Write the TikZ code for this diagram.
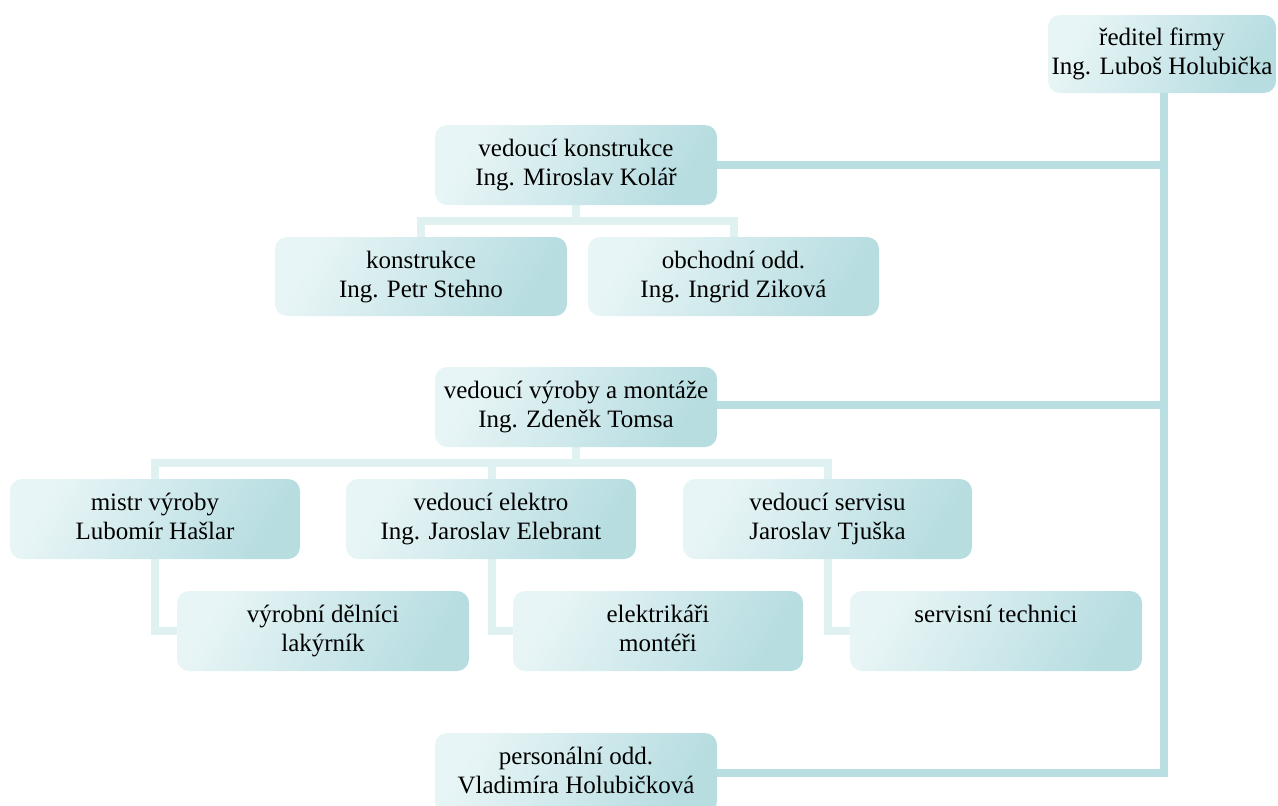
\documentclass[tikz,border=0pt]{standalone}
\usepackage{fontspec}
\setmainfont{Liberation Serif}
\usetikzlibrary{backgrounds}
\definecolor{boxL}{HTML}{E8F5F6}
\definecolor{boxR}{HTML}{B7DDE1}
\definecolor{trunkC}{HTML}{B9DFE3}
\definecolor{subC}{HTML}{E0F1F2}
\newcommand\twoline[2]{\rule{0pt}{22pt}#1\\#2\rule[-10pt]{0pt}{10pt}}
\tikzset{
  orgbox/.style={rounded corners=12pt, top color=boxL, bottom color=boxR, shading angle=60,
    align=center, inner sep=0pt, font=\fontsize{25}{29}\selectfont, text=black},
  trunk/.style={draw=trunkC, line width=8pt},
  sub/.style={draw=subC, line width=8pt},
}
\begin{document}
\begin{tikzpicture}[x=1pt,y=-1pt]
\useasboundingbox (0,0) rectangle (1278,806);
\node[orgbox, minimum width=228pt, minimum height=78pt] (dir) at (1162,54) {\twoline{ředitel firmy}{Ing. Luboš Holubička}};
\node[orgbox, minimum width=282pt, minimum height=80pt] (vk) at (576,165) {\twoline{vedoucí konstrukce}{Ing. Miroslav Kolář}};
\node[orgbox, minimum width=292pt, minimum height=79pt] (kon) at (421,276.5) {\twoline{konstrukce}{Ing. Petr Stehno}};
\node[orgbox, minimum width=291pt, minimum height=79pt] (obch) at (733.5,276.5) {\twoline{obchodní odd.}{Ing. Ingrid Ziková}};
\node[orgbox, minimum width=282pt, minimum height=80pt] (vv) at (576,407) {\twoline{vedoucí výroby a montáže}{Ing. Zdeněk Tomsa}};
\node[orgbox, minimum width=290pt, minimum height=80pt] (mistr) at (155,519) {\twoline{mistr výroby}{Lubomír Hašlar}};
\node[orgbox, minimum width=290pt, minimum height=80pt] (elek) at (491,519) {\twoline{vedoucí elektro}{Ing. Jaroslav Elebrant}};
\node[orgbox, minimum width=289pt, minimum height=80pt] (serv) at (827.5,519) {\twoline{vedoucí servisu}{Jaroslav Tjuška}};
\node[orgbox, minimum width=292pt, minimum height=80pt] (vyr) at (323,631) {\twoline{výrobní dělníci}{lakýrník}};
\node[orgbox, minimum width=290pt, minimum height=80pt] (elk) at (658,631) {\twoline{elektrikáři}{montéři}};
\node[orgbox, minimum width=292pt, minimum height=80pt] (st) at (996,631) {\twoline{servisní technici}{}};
\node[orgbox, minimum width=282pt, minimum height=80pt] (pers) at (576,773) {\twoline{personální odd.}{Vladimíra Holubičková}};
\begin{scope}[on background layer]
  % trunk from director
  \draw[trunk] (pers.east) -- ([xshift=2pt]pers.east -| dir.south) -- ([xshift=2pt]dir.south);
  \draw[trunk] (vk.east) -- ([xshift=2pt]vk.east -| dir.south);
  \draw[trunk] ([yshift=2pt]vv.east) -- ([xshift=2pt,yshift=2pt]vv.east -| dir.south);
  % konstrukce branch
  \draw[sub] (kon.north) -- ++(0,-16) coordinate (k1) -| (obch.north);
  \draw[sub] (vk.south) -- (vk.south |- k1);
  % vyroba branch
  \draw[sub] (mistr.north) -- ++(0,-16) coordinate (v1) -| ([xshift=0.5pt]serv.north);
  \draw[sub] ([xshift=1pt]elek.north) -- ([xshift=1pt]elek.north |- v1);
  \draw[sub] (vv.south) -- (vv.south |- v1);
  % sub-children
  \draw[sub] (mistr.south) |- (vyr.west);
  \draw[sub] ([xshift=1pt]elek.south) |- (elk.west);
  \draw[sub] ([xshift=0.5pt]serv.south) |- (st.west);
\end{scope}
\end{tikzpicture}
\end{document}
